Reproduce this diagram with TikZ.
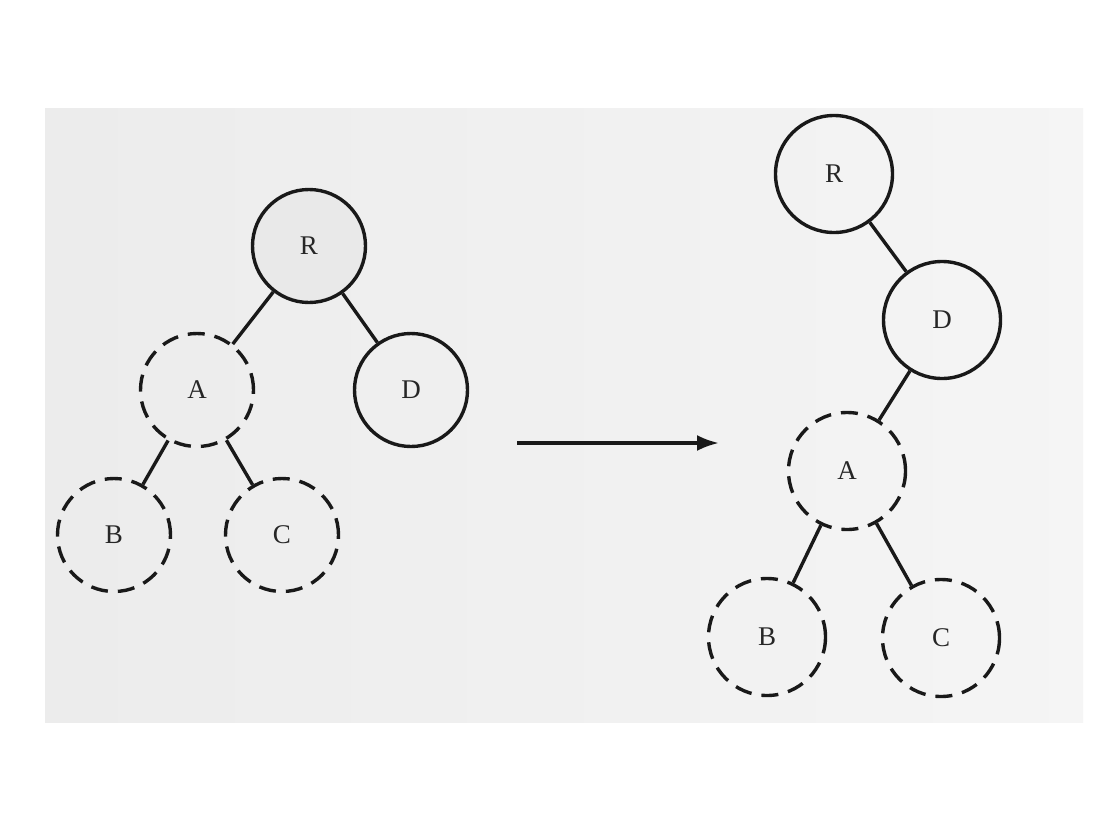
\documentclass[tikz,border=0pt]{standalone}
\usepackage{fontspec}
\setmainfont{Liberation Serif}
\usetikzlibrary{arrows.meta}
\begin{document}
\begin{tikzpicture}[x=1pt,y=-1pt,
  treenode/.style={circle,draw=black!90,line width=3.4pt,inner sep=0pt,font=\fontsize{27}{27}\selectfont,text=black!85},
  solidnode/.style={treenode},
  dashnode/.style={treenode,dash pattern=on 17pt off 10pt},
  edge/.style={draw=black!90,line width=3.4pt},
  leftnode/.style={minimum size=113pt},
  rightnode/.style={minimum size=117pt}]
\useasboundingbox (0,0) rectangle (1108,814);
\fill[white] (0,0) rectangle (1108,814);
\shade[left color=gray!15,right color=gray!8] (45,108) rectangle (1083,722);
% left tree
\node[solidnode,leftnode,fill=gray!17] (R1) at (309,246) {R};
\node[dashnode,leftnode] (A1) at (197,390) {A};
\node[solidnode,leftnode] (D1) at (411,390) {D};
\node[dashnode,leftnode] (B1) at (114,535) {B};
\node[dashnode,leftnode] (C1) at (282,535) {C};
\draw[edge] (R1) -- (A1);
\draw[edge] (R1) -- (D1);
\draw[edge] (A1) -- (B1);
\draw[edge] (A1) -- (C1);
% arrow
\coordinate (s) at (517,443);
\coordinate (e) at (719,443);
\draw[edge,-{Latex[length=22pt,width=16pt]}] (s) -- (e);
% right tree
\node[solidnode,rightnode] (R2) at (834,174) {R};
\node[solidnode,rightnode] (D2) at (942,320) {D};
\node[dashnode,rightnode] (A2) at (847,471) {A};
\node[dashnode,rightnode] (B2) at (767,637) {B};
\node[dashnode,rightnode] (C2) at (941,638) {C};
\draw[edge] (R2) -- (D2);
\draw[edge] (D2) -- (A2);
\draw[edge] (A2) -- (B2);
\draw[edge] (A2) -- (C2);
\end{tikzpicture}
\end{document}
